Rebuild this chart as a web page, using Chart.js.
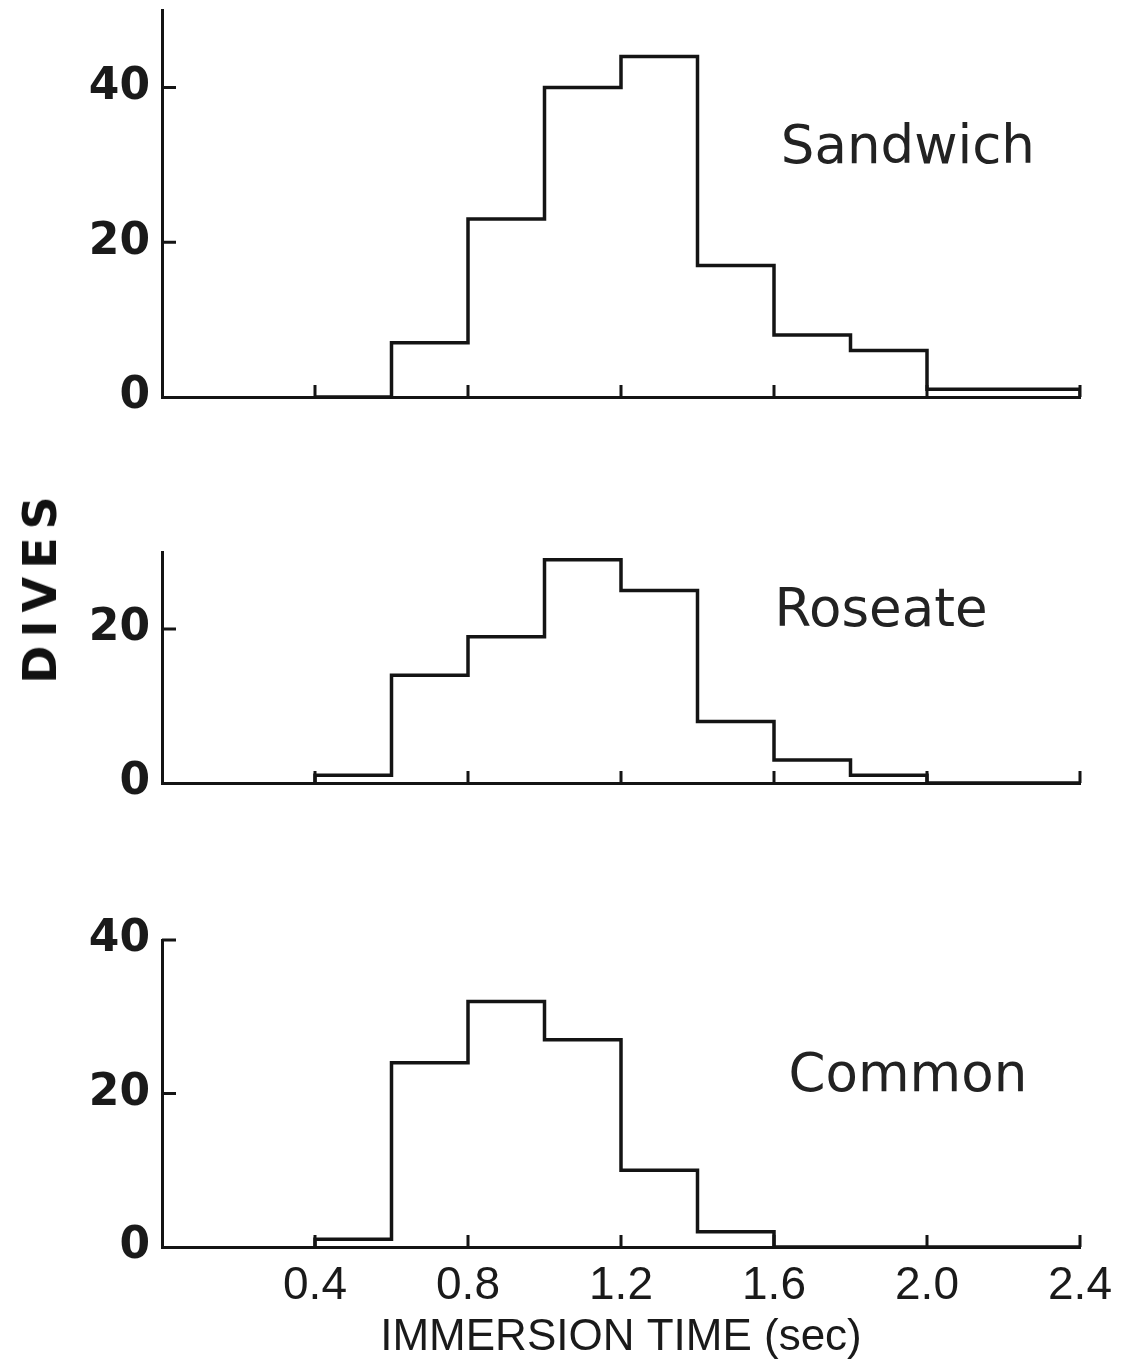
<!DOCTYPE html>
<html>
<head>
<meta charset="utf-8">
<script src="https://cdn.jsdelivr.net/npm/chart.js@4.4.1/dist/chart.umd.min.js"></script>
<style>
  body { margin: 0; background: #fff; }
  #wrap { position: relative; width: 1139px; height: 1364px; overflow: hidden; background: #fff; }
  #wrap canvas { position: absolute; left: 0; }
  #dives {
    position: absolute; left: 40px; top: 586px;
    transform: translate(-50%, -50%) rotate(-90deg);
    font: bold 46px "DejaVu Sans", sans-serif; letter-spacing: 8px; color: #111;
    white-space: nowrap;
  }
</style>
</head>
<body>
<div id="wrap">
  <canvas id="sandwich" width="1139" height="420" style="top:0px"></canvas>
  <canvas id="roseate" width="1139" height="380" style="top:430px"></canvas>
  <canvas id="common" width="1139" height="534" style="top:830px"></canvas>
  <div id="dives">DIVES</div>
</div>
<script>
// histogram bin edges (sec), 0.2 s bins
const binEdges = [0.4, 0.6, 0.8, 1.0, 1.2, 1.4, 1.6, 1.8, 2.0, 2.2, 2.4];
// dives per bin
const sandwichDives = [0, 7, 23, 40, 44, 17, 8, 6, 1, 1];
const roseateDives = [1, 14, 19, 29, 25, 8, 3, 1, 0, 0];
const commonDives = [1, 24, 32, 27, 10, 2, 0, 0, 0, 0];

const xTickVals = [0.4, 0.8, 1.2, 1.6, 2.0, 2.4];
const sandwichYTicks = [0, 20, 40];
const roseateYTicks = [0, 20];
const commonYTicks = [0, 20, 40];

const INK = '#141414';

// outline of the histogram: start on the axis, step across each bin, drop back at the end
function stepPoints(counts){
  const last = binEdges[binEdges.length - 1];
  const pts = [{ x: binEdges[0], y: 0 }];
  counts.forEach((c, i) => pts.push({ x: binEdges[i], y: c }));
  pts.push({ x: last, y: counts[counts.length - 1] });
  pts.push({ x: last, y: 0 });
  return pts;
}

// short tick marks pointing into the plot, plus the species name
const innerMarks = {
  id: 'innerMarks',
  afterDatasetsDraw(chart, args, opts){
    const { ctx, chartArea, scales: { x, y } } = chart;
    ctx.save();
    ctx.strokeStyle = INK;
    ctx.lineWidth = 3;
    ctx.beginPath();
    y.ticks.forEach(t => {
      if (t.value === 0) return;
      const py = y.getPixelForValue(t.value);
      ctx.moveTo(chartArea.left, py);
      ctx.lineTo(chartArea.left + 14, py);
    });
    x.ticks.forEach(t => {
      const px = x.getPixelForValue(t.value);
      ctx.moveTo(px, chartArea.bottom);
      ctx.lineTo(px, chartArea.bottom - 12);
    });
    ctx.stroke();
    ctx.fillStyle = '#222';
    ctx.font = '53px "DejaVu Sans", sans-serif';
    ctx.textAlign = 'center';
    ctx.textBaseline = 'middle';
    ctx.fillText(opts.label, x.getPixelForValue(opts.at[0]), y.getPixelForValue(opts.at[1]));
    ctx.restore();
  }
};

function makePanel(id, counts, yMax, yTicks, label, labelAt, padTop, xHeight, showX){
  new Chart(document.getElementById(id), {
    type: 'line',
    data: {
      datasets: [{
        data: stepPoints(counts),
        stepped: true,
        borderColor: INK,
        borderWidth: 3.5,
        pointRadius: 0,
        fill: false,
        borderJoinStyle: 'miter'
      }]
    },
    options: {
      responsive: false,
      animation: false,
      devicePixelRatio: 1,
      layout: { padding: { left: 0, right: 59, top: padTop, bottom: 0 } },
      plugins: {
        legend: { display: false },
        tooltip: { enabled: false },
        innerMarks: { label, at: labelAt }
      },
      scales: {
        x: {
          type: 'linear',
          min: 0,
          max: 2.4,
          afterBuildTicks: s => { s.ticks = xTickVals.map(v => ({ value: v })); },
          afterFit: s => { s.height = xHeight; s.paddingLeft = 0; s.paddingRight = 0; },
          grid: { display: false, drawTicks: false },
          border: { display: true, color: INK, width: 3 },
          ticks: {
            display: showX,
            padding: 12,
            color: '#1a1a1a',
            font: { family: '"Liberation Sans", Arial, sans-serif', size: 46 },
            callback: v => Number(v).toFixed(1)
          },
          title: {
            display: showX,
            text: 'IMMERSION TIME (sec)',
            color: '#1a1a1a',
            font: { family: '"Liberation Sans", Arial, sans-serif', size: 44 },
            padding: { top: 0, bottom: 0 }
          }
        },
        y: {
          min: 0,
          max: yMax,
          afterBuildTicks: s => { s.ticks = yTicks.map(v => ({ value: v })); },
          afterFit: s => { s.width = 162; s.paddingTop = 0; s.paddingBottom = 0; },
          grid: { display: false, drawTicks: false },
          border: { display: true, color: INK, width: 3 },
          ticks: {
            padding: 12,
            color: '#1a1a1a',
            font: { family: '"DejaVu Sans", sans-serif', size: 44, weight: 'bold' }
          }
        }
      }
    },
    plugins: [innerMarks]
  });
}

makePanel('sandwich', sandwichDives, 50, sandwichYTicks, 'Sandwich', [1.95, 32], 10, 23, false);
makePanel('roseate', roseateDives, 30, roseateYTicks, 'Roseate', [1.88, 22.2], 122, 27, false);
makePanel('common', commonDives, 40, commonYTicks, 'Common', [1.95, 22.1], 110, 117, true);
</script>
</body>
</html>
